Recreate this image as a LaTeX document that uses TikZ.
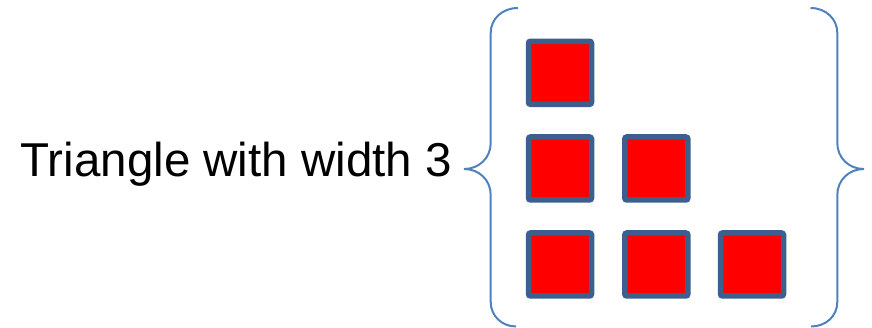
\documentclass[tikz,border=0pt]{standalone}
\usepackage{fontspec}
\setmainfont{Liberation Sans}
\definecolor{bracecol}{HTML}{4F81BD}
\definecolor{boxedge}{HTML}{3C5F8E}
\definecolor{boxfill}{HTML}{FF0000}
\begin{document}
\begin{tikzpicture}[x=1pt,y=1pt,
  cell/.style={draw=boxedge,fill=boxfill,line width=5.5pt,rounded corners=2pt,
    minimum size=63pt,inner sep=0pt,outer sep=0pt},
  bracepath/.style={draw=bracecol,line width=2pt},
  lbl/.style={font=\fontsize{47.5}{57}\selectfont,inner sep=0pt,anchor=base west}]
\useasboundingbox (0,0) rectangle (872,328);
\node[lbl] (title) at (20.5,151.5) {Triangle with width 3};
% squares
\node[cell] (s11) at (560,255.2) {};
\node[cell] (s21) at (560,159.5) {};
\node[cell] (s22) at (656.3,159.5) {};
\node[cell] (s31) at (560,63.5) {};
\node[cell] (s32) at (656.3,63.5) {};
\node[cell] (s33) at (752,63.5) {};
% left brace
\draw[bracepath] (518,320) .. controls (502,320) and (490.7,309) .. (490.7,295)
  -- (490.7,185) .. controls (490.7,170) and (479,159) .. (464,159)
  .. controls (479,159) and (490.7,148) .. (490.7,133)
  -- (490.7,26) .. controls (490.7,12) and (502,1.5) .. (516,1.5);
% right brace
\draw[bracepath] (810.5,320) .. controls (826,320) and (837.3,309) .. (837.3,295)
  -- (837.3,185) .. controls (837.3,170) and (849,159) .. (864,159)
  .. controls (849,159) and (837.3,148) .. (837.3,133)
  -- (837.3,26) .. controls (837.3,12) and (826,1.5) .. (811,1.5);
\end{tikzpicture}
\end{document}
